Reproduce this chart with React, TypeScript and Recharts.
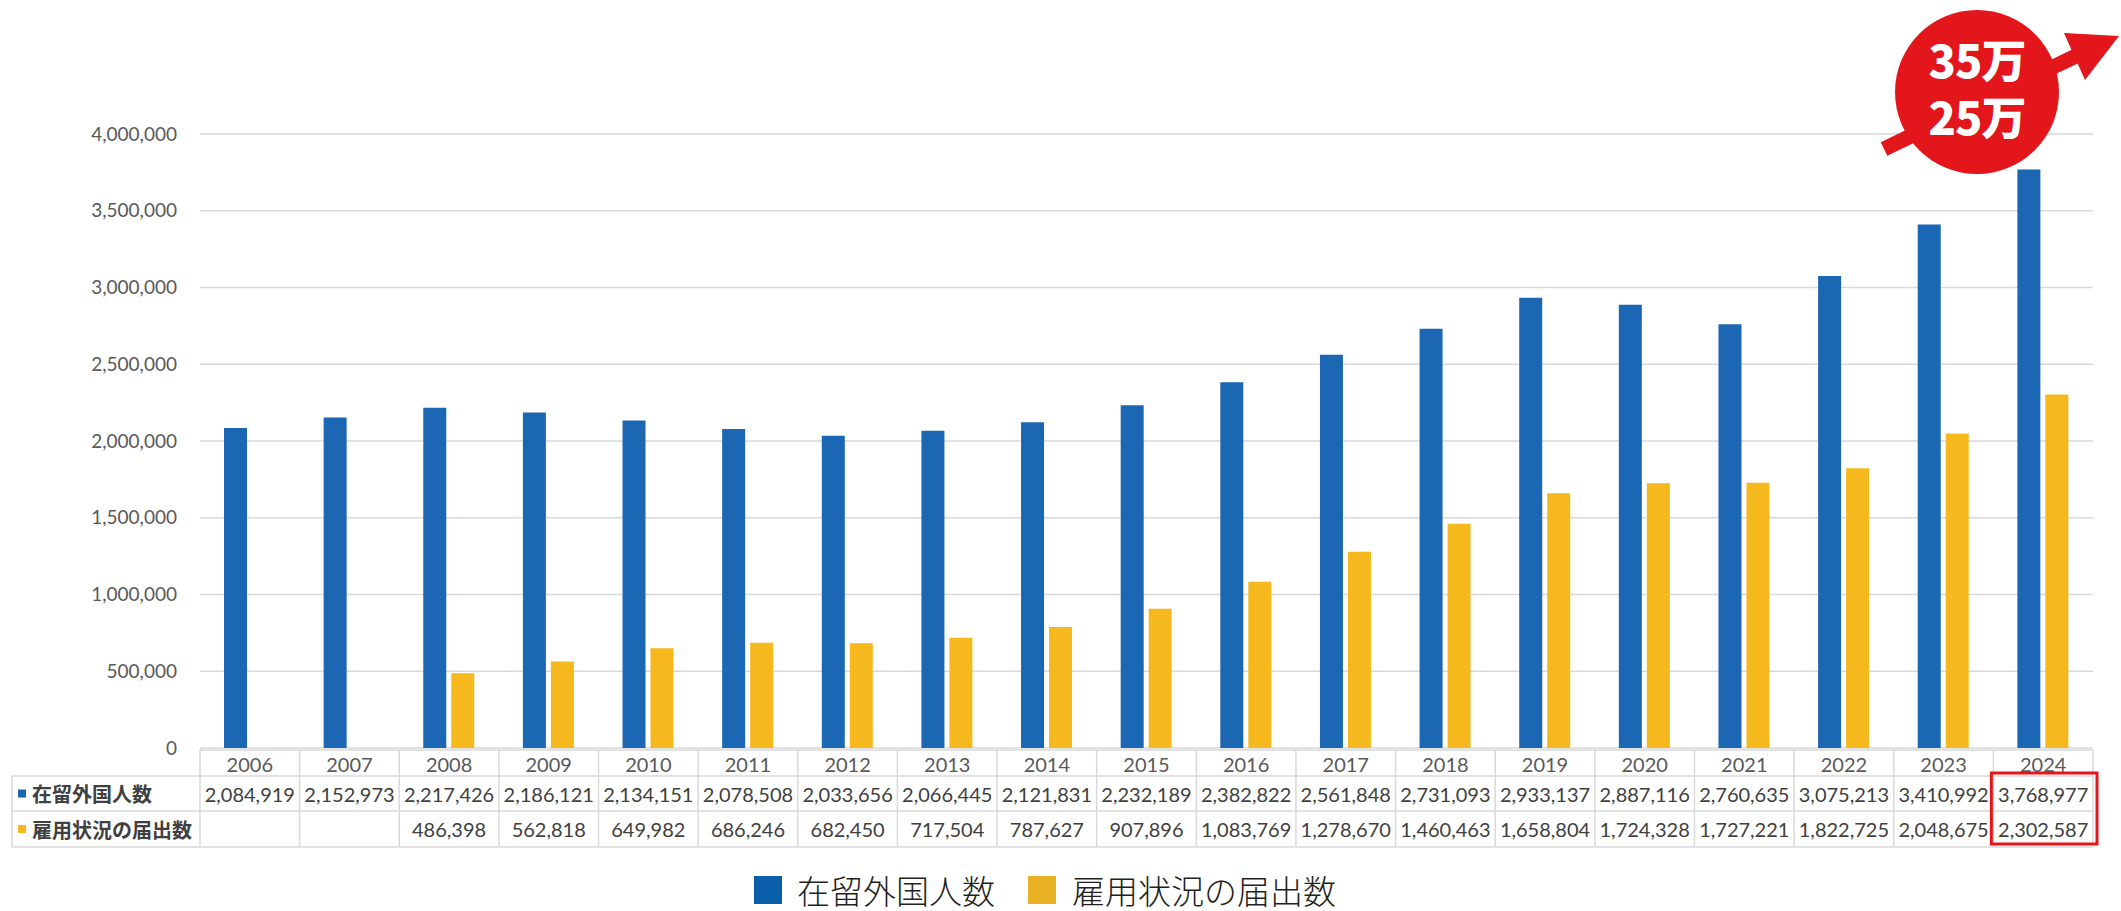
import React from 'react';
import { BarChart, Bar, XAxis, YAxis, CartesianGrid, Legend } from 'recharts';

const years = ['2006', '2007', '2008', '2009', '2010', '2011', '2012', '2013', '2014', '2015', '2016', '2017', '2018', '2019', '2020', '2021', '2022', '2023', '2024'];
const residents = [2084919, 2152973, 2217426, 2186121, 2134151, 2078508, 2033656, 2066445, 2121831, 2232189, 2382822, 2561848, 2731093, 2933137, 2887116, 2760635, 3075213, 3410992, 3768977];
const workers: (number | null)[] = [null, null, 486398, 562818, 649982, 686246, 682450, 717504, 787627, 907896, 1083769, 1278670, 1460463, 1658804, 1724328, 1727221, 1822725, 2048675, 2302587];
const yTicks = [0, 500000, 1000000, 1500000, 2000000, 2500000, 3000000, 3500000, 4000000];
const seriesNames = ['在留外国人数', '雇用状況の届出数'];
const badgeLines = ['35万', '25万'];

const BAR_BLUE = '#1B67B3';
const BAR_YELLOW = '#F5B91E';
const LEG_BLUE = '#0B5FA8';
const LEG_YELLOW = '#E9B224';
const GRID = '#D9D9D9';
const NUM_FONT = 'Lato, "Noto Sans", sans-serif';
const CJK_FONT = '"Noto Sans CJK JP", "Noto Sans", sans-serif';

const data = years.map((y, i) => ({ year: y, residents: residents[i], workers: workers[i] }));

const fmt = (v: number | null) => (v == null ? '' : v.toLocaleString('en-US'));

const W = 2121;
const H = 911;
const MARGIN = { top: 134, right: 28, left: 0, bottom: 3 };
const YAXIS_W = 200;
const XAXIS_H = 100;
const LEGEND_H = 60;

const HEAD_H = 26;
const ROW1_H = 35;
const ROW2_H = 36;

const TableTick = (props: any) => {
  const { x, y, payload, index } = props;
  const fallbackHalf = (W - MARGIN.right - YAXIS_W) / years.length / 2;
  const half = payload && payload.offset ? payload.offset : fallbackHalf;
  const left = x - half;
  const right = x + half;
  const top = y + 2;
  const r1 = top + HEAD_H;
  const r2 = r1 + ROW1_H;
  const bottom = r2 + ROW2_H;
  const i = index as number;
  const isLast = i === years.length - 1;
  const lineProps = { stroke: GRID, strokeWidth: 1.5 };
  const labelLeft = 12;
  return (
    <g>
      <line x1={left} x2={right} y1={top} y2={top} {...lineProps} />
      <line x1={left} x2={right} y1={r1} y2={r1} {...lineProps} />
      <line x1={left} x2={right} y1={r2} y2={r2} {...lineProps} />
      <line x1={left} x2={right} y1={bottom} y2={bottom} {...lineProps} />
      <line x1={right} x2={right} y1={top} y2={bottom} {...lineProps} />
      {i === 0 && (
        <g>
          <line x1={left} x2={left} y1={top} y2={bottom} {...lineProps} />
          <line x1={labelLeft} x2={left} y1={r1} y2={r1} {...lineProps} />
          <line x1={labelLeft} x2={left} y1={r2} y2={r2} {...lineProps} />
          <line x1={labelLeft} x2={left} y1={bottom} y2={bottom} {...lineProps} />
          <line x1={labelLeft} x2={labelLeft} y1={r1} y2={bottom} {...lineProps} />
          <rect x={labelLeft + 6} y={r1 + ROW1_H / 2 - 4} width={8} height={8} fill={BAR_BLUE} />
          <text x={labelLeft + 20} y={r1 + ROW1_H / 2} dominantBaseline="central" fontFamily={CJK_FONT} fontWeight={700} fontSize={20} fill="#404040">{seriesNames[0]}</text>
          <rect x={labelLeft + 6} y={r2 + ROW2_H / 2 - 4} width={8} height={8} fill={BAR_YELLOW} />
          <text x={labelLeft + 20} y={r2 + ROW2_H / 2} dominantBaseline="central" fontFamily={CJK_FONT} fontWeight={700} fontSize={20} fill="#404040">{seriesNames[1]}</text>
        </g>
      )}
      <text x={x} y={top + HEAD_H / 2 + 1} textAnchor="middle" dominantBaseline="central" fontFamily={NUM_FONT} fontSize={20} fill="#595959">{payload.value}</text>
      <text x={x} y={r1 + ROW1_H / 2} textAnchor="middle" dominantBaseline="central" fontFamily={NUM_FONT} fontSize={20} fill="#404040">{fmt(residents[i])}</text>
      <text x={x} y={r2 + ROW2_H / 2} textAnchor="middle" dominantBaseline="central" fontFamily={NUM_FONT} fontSize={20} fill="#404040">{fmt(workers[i])}</text>
      {isLast && (
        <rect x={left - 2} y={r1 - 3} width={right - left + 6} height={bottom - r1} fill="none" stroke="#E3161B" strokeWidth={3} />
      )}
    </g>
  );
};

const LegendContent = () => (
  <div style={{ height: LEGEND_H, position: 'relative' }}>
    <div style={{ position: 'absolute', top: 14, left: 0, right: 0, height: LEGEND_H - 4, display: 'flex', alignItems: 'center', paddingLeft: 754, boxSizing: 'border-box' }}>
      <div style={{ width: 28, height: 28, background: LEG_BLUE }} />
      <span style={{ marginLeft: 15, fontFamily: CJK_FONT, fontWeight: 300, fontSize: 33, color: '#231F20', lineHeight: '34px' }}>{seriesNames[0]}</span>
      <div style={{ width: 28, height: 28, background: LEG_YELLOW, marginLeft: 33 }} />
      <span style={{ marginLeft: 16, fontFamily: CJK_FONT, fontWeight: 300, fontSize: 33, color: '#231F20', lineHeight: '34px' }}>{seriesNames[1]}</span>
    </div>
  </div>
);

const Badge = () => (
  <svg width={W} height={220} style={{ position: 'absolute', left: 0, top: 0, pointerEvents: 'none' }}>
    <line x1={1884} y1={149} x2={2078} y2={55} stroke="#E3161B" strokeWidth={15} />
    <polygon points="2064,33 2119,36 2085,80" fill="#E3161B" />
    <circle cx={1977} cy={92} r={82} fill="#E3161B" />
    <text x={1977} y={78} textAnchor="middle" fontFamily={CJK_FONT} fontWeight={900} fontSize={45} fill="#FFFFFF" letterSpacing={-1}>{badgeLines[0]}</text>
    <text x={1977} y={135} textAnchor="middle" fontFamily={CJK_FONT} fontWeight={900} fontSize={45} fill="#FFFFFF" letterSpacing={-1}>{badgeLines[1]}</text>
  </svg>
);

export default function App() {
  return (
    <div style={{ position: 'absolute', left: 0, top: 0, width: W, height: H, background: '#FFFFFF' }}>
      <BarChart width={W} height={H} data={data} margin={MARGIN} barSize={23} barGap={5}>
        <CartesianGrid vertical={false} stroke={GRID} strokeWidth={1.5} />
        <XAxis
          dataKey="year"
          interval={0}
          height={XAXIS_H}
          axisLine={false}
          tickLine={false}
          tickSize={0}
          tickMargin={0}
          tick={<TableTick />}
        />
        <YAxis
          width={YAXIS_W}
          domain={[0, 4000000]}
          ticks={yTicks}
          axisLine={false}
          tickLine={false}
          tickSize={6}
          tickMargin={17}
          tickFormatter={(v: number) => v.toLocaleString('en-US')}
          tick={{ fontFamily: NUM_FONT, fontSize: 19, fill: '#595959' }}
        />
        <Legend verticalAlign="bottom" wrapperStyle={{ left: 0, width: W }} content={<LegendContent />} />
        <Bar dataKey="residents" name={seriesNames[0]} fill={BAR_BLUE} isAnimationActive={false} />
        <Bar dataKey="workers" name={seriesNames[1]} fill={BAR_YELLOW} isAnimationActive={false} />
      </BarChart>
      <Badge />
    </div>
  );
}
